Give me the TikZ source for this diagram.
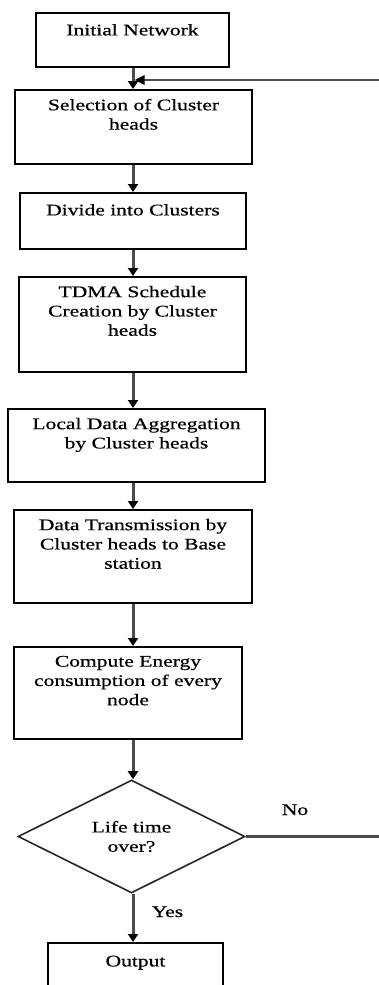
\documentclass[tikz,border=0pt]{standalone}
\usepackage{fontspec}
\setmainfont{Liberation Serif}[FakeStretch=1.33,FakeBold=0.6]
\usetikzlibrary{arrows.meta,shapes.geometric}
\newcommand{\chartfont}{\fontsize{8.1}{9.65}\selectfont}
\tikzset{
	box/.style 2 args={draw, line width=1pt, minimum width=#1, minimum height=#2, inner sep=0pt},
	txt/.style={anchor=north, align=center, inner sep=0pt, yshift=-4.75pt, font=\chartfont, execute at begin node=\strut},
	decide/.style={draw, diamond, line width=0.8pt, draw=black!85, minimum width=113.5pt, minimum height=56.5pt, inner sep=0pt, align=center, font=\chartfont},
	lbl/.style={anchor=base, inner sep=0pt, font=\chartfont},
	arr/.style={line width=1.5pt, draw=black!70, -{Triangle[width=5pt,length=4pt,black]}},
	fb/.style={line width=1.3pt, draw=black!70, -{Triangle[width=4.5pt,length=5pt,black]}}
}

\begin{document}
\begin{tikzpicture}[x=0.5pt, y=-0.5pt]
			%%%%% START %%%%%
			\useasboundingbox (0,0) rectangle (379,985);
			
			\coordinate (spine) at (133,0);
			
			\node[box={96.5pt}{27pt}, label={[txt]north:Initial Network}] (init) at (132.5,40) {};
			\node[box={118.5pt}{37pt}, label={[txt]north:Selection of Cluster\\heads}] (sel) at (133.5,127) {};
			\node[box={113pt}{28pt}, label={[txt]north:Divide into Clusters}] (divide) at (133,221) {};
			\node[box={113.5pt}{47.5pt}, label={[txt]north:TDMA Schedule\\Creation by Cluster\\heads}] (tdma) at (132.5,324.5) {};
			\node[box={128.5pt}{36.5pt}, label={[txt]north:Local Data Aggregation\\by Cluster heads}] (local) at (136.5,445.5) {};
			\node[box={119pt}{46.5pt}, label={[txt]north:Data Transmission by\\Cluster heads to Base\\station}] (trans) at (133,556.5) {};
			\node[box={114pt}{46pt}, label={[txt]north:Compute Energy\\consumption of every\\node}] (energy) at (128,693) {};
			\node[decide] (life) at (131.5,836.5) {Life time\\over?};
			\node[box={87.5pt}{27pt}, label={[txt,yshift=-0.5pt]north:Output}] (out) at (135.5,970) {};
			
			\draw[arr] (spine |- init.south) -- (spine |- sel.north);
			\draw[arr] (spine |- sel.south) -- (spine |- divide.north);
			\draw[arr] (spine |- divide.south) -- (spine |- tdma.north);
			\draw[arr] (spine |- tdma.south) -- (spine |- local.north);
			\draw[arr] (spine |- local.south) -- (spine |- trans.north);
			\draw[arr] (spine |- trans.south) -- (spine |- energy.north);
			\draw[arr] (spine |- energy.south) -- (spine |- life.north);
			\draw[arr] (spine |- life.south) -- (spine |- out.north);
			
			% loop back when life time is not over
			\coordinate (merge) at (134.5,80);
			\coordinate (turn) at (392,80);
			\draw[fb] (life.east) -- (life.east -| turn) -- (turn) -- (merge);
			
			\node[lbl] (no) at (295,815) {No};
			\node[lbl] (yes) at (167.5,917) {Yes};
			%%%%% END %%%%%
\end{tikzpicture}
\end{document}
